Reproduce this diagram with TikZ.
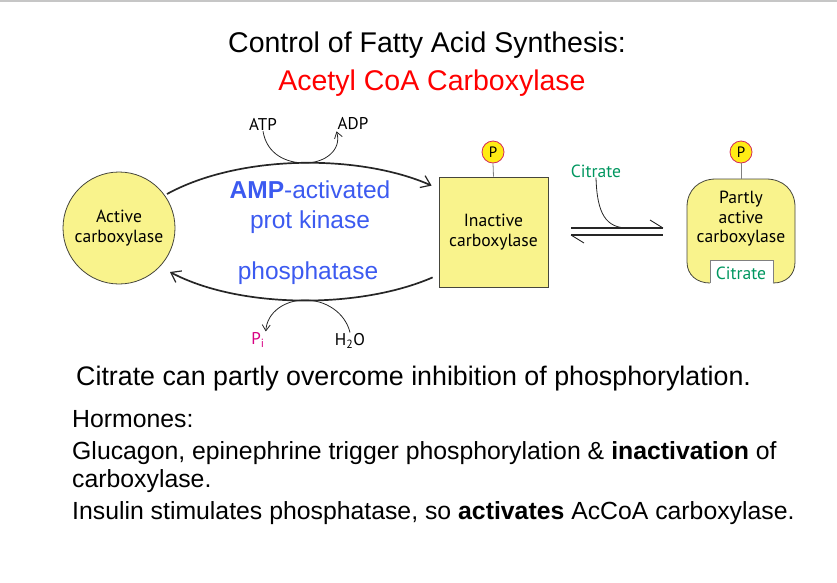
\documentclass[tikz,border=0pt]{standalone}
\usepackage{fontspec}
\setmainfont{Liberation Sans}
\newfontfamily\lab{PT Sans}
\usetikzlibrary{arrows.meta}
\definecolor{enzfill}{RGB}{249,243,140}
\definecolor{pfill}{RGB}{255,236,20}
\definecolor{pedge}{RGB}{210,40,90}
\definecolor{citgreen}{RGB}{0,150,95}
\definecolor{pimag}{RGB}{215,0,130}
\definecolor{kblue}{RGB}{60,90,240}
\definecolor{titlered}{RGB}{255,0,0}
\definecolor{edge}{RGB}{70,70,60}
\tikzset{
  titletext/.style={inner sep=0pt, font=\fontsize{28.5}{34}\selectfont},
  bodytext/.style={inner sep=0pt, anchor=base west, font=\fontsize{24.8}{30}\selectfont},
  bigbody/.style={inner sep=0pt, anchor=base west, font=\fontsize{26.8}{30}\selectfont},
  bluetext/.style={inner sep=0pt, text=kblue, font=\fontsize{24.5}{28}\selectfont},
  labeltext/.style={inner sep=0pt, align=center, font=\lab\fontsize{17.6}{19.5}\selectfont},
  smalllab/.style={inner sep=1pt, font=\lab\fontsize{17}{18}\selectfont},
  enzyme/.style={draw=edge, fill=enzfill, line width=0.8pt, inner sep=0pt, align=center, font=\lab\fontsize{17.6}{20}\selectfont},
  pcirc/.style={circle, draw=pedge, fill=pfill, line width=0.8pt, minimum size=22pt, inner sep=0pt, font=\lab\fontsize{15}{15}\selectfont},
  stem/.style={draw=gray, line width=0.8pt},
  bigarrow/.style={draw=black!85, line width=1.7pt, -{Straight Barb[length=9pt,width=13pt,line width=1.2pt]}},
  smallarrow/.style={draw=black!85, line width=0.8pt, -{Straight Barb[length=6pt,width=8pt]}},
}
\begin{document}
\begin{tikzpicture}[x=1pt,y=-1pt]
\useasboundingbox (0,0) rectangle (837,582);
\draw[gray!45, line width=1.5pt] (0,1) -- (837,1);

% titles
\node[titletext] (t1) at (427,45) {Control of Fatty Acid Synthesis:};
\node[titletext, text=titlered] (t2) at (432,83) {Acetyl CoA Carboxylase};

% enzymes
\node[enzyme, circle, minimum size=112pt] (act) at (119,228) {Active\\carboxylase};
\node[enzyme, rectangle, minimum width=109pt, minimum height=110pt] (inact) at (493.5,232) {Inactive\\carboxylase};
\node[pcirc] (p1) at (493,152) {P};
\draw[stem] (p1.south) -- (inact.north);

% partly active carboxylase shape
\fill[enzfill] (710,283) -- (710,260) -- (773,260) -- (773,283)
  .. controls (786,283) and (795,275) .. (795,262) -- (795,207)
  .. controls (795,190) and (783,179) .. (766,179) -- (716,179)
  .. controls (699,179) and (687,190) .. (687,207) -- (687,262)
  .. controls (687,275) and (697,283) .. (710,283) -- cycle;
\draw[draw=edge, line width=0.8pt] (773,283)
  .. controls (786,283) and (795,275) .. (795,262) -- (795,207)
  .. controls (795,190) and (783,179) .. (766,179) -- (716,179)
  .. controls (699,179) and (687,190) .. (687,207) -- (687,262)
  .. controls (687,275) and (697,283) .. (710,283);
\draw[draw=gray, line width=0.8pt] (710,283) -- (710,260) -- (773,260) -- (773,283);
\coordinate (patop) at (741,179);
\node[labeltext] (pa) at (741,219) {Partly\\active\\carboxylase};
\node[labeltext, text=citgreen] (pacit) at (741,273) {Citrate};
\node[pcirc] (p2) at (741,152) {P};
\draw[stem] (p2.south) -- (patop);

% equilibrium arrows
\coordinate (eqL1) at (571,228);
\coordinate (eqR1) at (663,228);
\coordinate (eqL2) at (571,235);
\coordinate (eqR2) at (663,235);
\coordinate (barbR) at (650,220);
\coordinate (barbL) at (584,243);
\draw[line width=2pt, black!85] (eqL1) -- (eqR1);
\draw[line width=0.9pt, black!85] (eqR1) -- (barbR);
\draw[line width=2pt, black!85] (eqL2) -- (eqR2);
\draw[line width=0.9pt, black!85] (eqL2) -- (barbL);
\node[labeltext, text=citgreen] (cit) at (596,171) {Citrate};
\coordinate (citjoin) at (628,228);
\draw[line width=0.8pt, black!85] (cit.south) .. controls (597,214) and (606,228) .. (citjoin);

% cycle arcs
\coordinate (kinS) at (167,194);
\coordinate (kinE) at ([xshift=-7pt,yshift=-9pt]inact.north west);
\draw[bigarrow] (kinS) .. controls (240,154) and (360,154) .. (kinE);
\coordinate (phS) at ([xshift=-6pt,yshift=10pt]inact.south west);
\coordinate (phE) at (170,272);
\draw[bigarrow] (phS) .. controls (360,309) and (240,309) .. (phE);

% ATP / ADP
\node[smalllab] (atp) at (263,124) {ATP};
\node[smalllab] (adp) at (353,124) {ADP};
\coordinate (atpT) at (305,163);
\draw[smallarrow] (atp.south) .. controls (267,155) and (287,163) .. (atpT)
  .. controls (325,163) and (342,150) .. (adp.south west);

% Pi / H2O
\node[smalllab, text=pimag] (pi) at (258,340) {P\textsubscript{i}};
\node[smalllab] (h2o) at (350,341) {H\textsubscript{2}O};
\coordinate (piT) at (305,300);
\draw[smallarrow] (h2o.north) .. controls (345,312) and (325,300) .. (piT)
  .. controls (285,300) and (267,312) .. (pi.north east);

% enzyme labels
\node[bluetext] (kin1) at (310,190) {\bfseries AMP\mdseries-activated};
\node[bluetext] (kin2) at (310,222) {prot kinase};
\node[bluetext] (phos) at (308,273) {phosphatase};

% body text
\node[bigbody] (b1) at (76,385) {Citrate can partly overcome inhibition of phosphorylation.};
\node[bodytext] (b2) at (72,427) {Hormones:};
\node[bodytext] (b3) at (72,459) {Glucagon, epinephrine trigger phosphorylation \& \textbf{inactivation} of};
\node[bodytext] (b4) at (72,487) {carboxylase.};
\node[bodytext] (b5) at (72,519) {Insulin stimulates phosphatase, so \textbf{activates} AcCoA carboxylase.};
\end{tikzpicture}
\end{document}
